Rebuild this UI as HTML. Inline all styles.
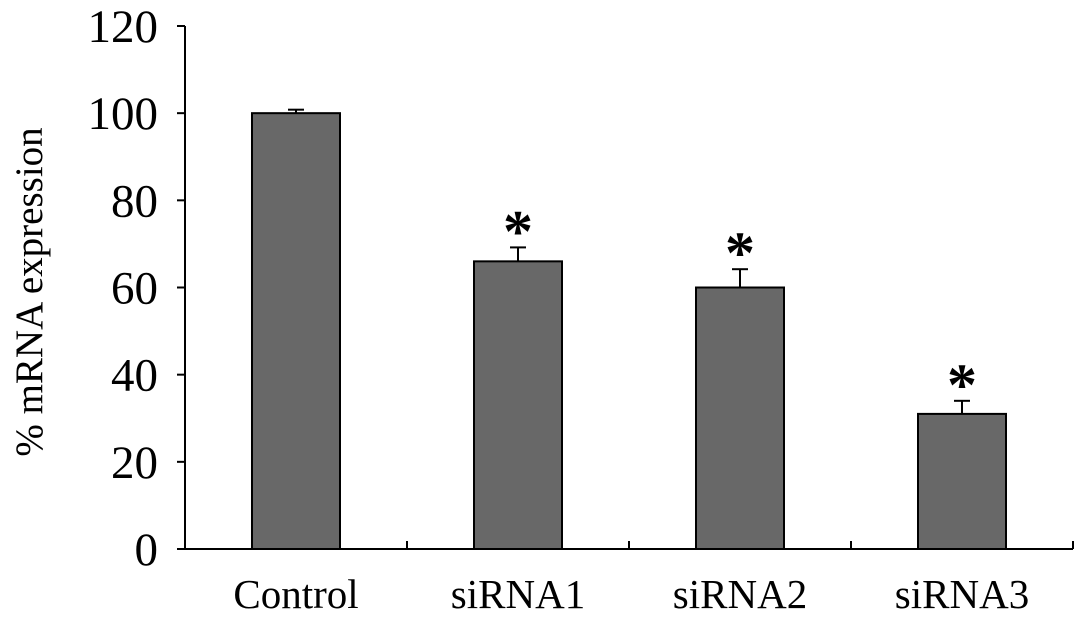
<!DOCTYPE html>
<html><head><meta charset="utf-8"><style>
html,body{margin:0;padding:0;background:#fff;width:1087px;height:624px;overflow:hidden}
svg{display:block;font-family:"Liberation Serif",serif}
</style></head><body>
<svg id="chart" width="1087" height="624" viewBox="0 0 1087 624"></svg>
<script>
const categories = ["Control","siRNA1","siRNA2","siRNA3"];
const values = [100, 66, 60, 31];
const errors = [0.8, 3.2, 4.2, 3];
const significant = [false, true, true, true];
const yTicks = [0,20,40,60,80,100,120];

const NS="http://www.w3.org/2000/svg";
const svg=document.getElementById('chart');
const x0=185, x1=1073, yBase=549, yTop=26, yMax=120;
const catW=(x1-x0)/categories.length, barW=88;
const y=v=>yBase-(v/yMax)*(yBase-yTop);
const xc=i=>x0+catW*(i+0.5);
function mk(tag,attrs,parent){const e=document.createElementNS(NS,tag);for(const k in attrs)e.setAttribute(k,attrs[k]);(parent||svg).appendChild(e);return e;}

const ya=mk('line',{x1:x0,y1:yTop,x2:x0,y2:yBase,stroke:'#000','stroke-width':2});


yTicks.forEach(t=>{
  const tl=mk('line',{x1:x0-8,y1:y(t),x2:x0,y2:y(t),stroke:'#000','stroke-width':2});
  
  
  const tx=mk('text',{x:x0-27,y:y(t)+16,'text-anchor':'end','font-size':47});
  tx.textContent=t;
  
  
});
const xa=mk('line',{x1:x0,y1:yBase,x2:x1,y2:yBase,stroke:'#000','stroke-width':2});


for(let i=1;i<=categories.length;i++){
  const tl=mk('line',{x1:x0+catW*i,y1:yBase-8,x2:x0+catW*i,y2:yBase,stroke:'#000','stroke-width':2});
  
  
}
categories.forEach((c,i)=>{
  const cx=xc(i);
  const b=mk('rect',{x:cx-barW/2,y:y(values[i]),width:barW,height:yBase-y(values[i]),fill:'#686868',stroke:'#000','stroke-width':2});
  
  
  const et=y(values[i]+errors[i]);
  const g=mk('g',{stroke:'#000','stroke-width':2});
  
  
  mk('line',{x1:cx,y1:y(values[i]),x2:cx,y2:et},g);
  mk('line',{x1:cx-8,y1:et,x2:cx+8,y2:et},g);
  if(significant[i]){
    const s=mk('text',{x:cx,y:et+4,'text-anchor':'middle','font-size':60,'font-weight':'bold'});
    s.textContent='*';
    
    
  }
  const l=mk('text',{x:cx,y:608,'text-anchor':'middle','font-size':41});
  l.textContent=c;
  
  
});
const at=mk('text',{x:0,y:0,'text-anchor':'middle','font-size':39,transform:'translate(42,292) rotate(-90)'});
at.textContent='% mRNA expression';


</script>
</body></html>
